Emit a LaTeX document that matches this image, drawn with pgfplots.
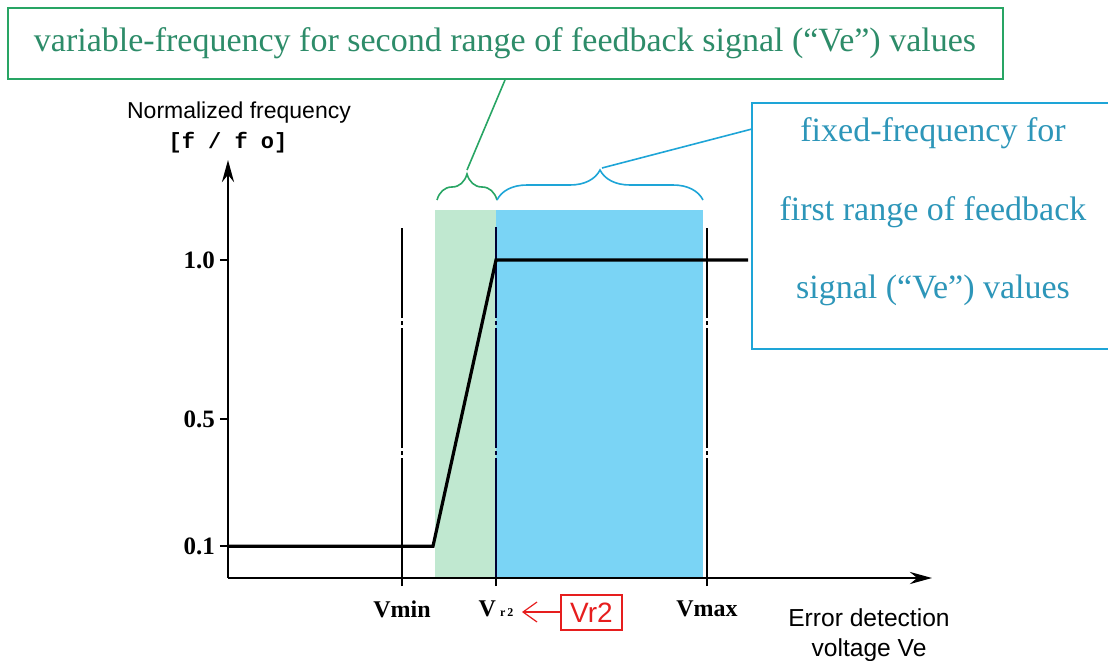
\documentclass[border=0pt]{standalone}
\usepackage{pgfplots}
\pgfplotsset{compat=1.18}
\usepackage{fontspec}
\setmainfont{Liberation Serif}
\setsansfont{Liberation Sans}
\setmonofont{Liberation Mono}
\usetikzlibrary{arrows.meta,decorations.pathreplacing}
\definecolor{gbord}{RGB}{40,165,100}
\definecolor{gtext}{RGB}{45,140,105}
\definecolor{gshade}{RGB}{192,232,208}
\definecolor{bshade}{RGB}{122,212,245}
\definecolor{bbord}{RGB}{30,165,215}
\definecolor{btext}{RGB}{45,150,185}
\definecolor{rred}{RGB}{230,30,30}
\begin{document}
\begin{tikzpicture}
\path[use as bounding box] (-114pt,-41pt) rectangle (440pt,289pt);
\begin{axis}[
  scale only axis, width=352pt, height=209pt,
  xmin=0, xmax=704, ymin=0, ymax=1.3145,
  enlargelimits=false,
  axis lines=left,
  axis line style={line width=1.4pt, -{Stealth[length=11pt,width=6pt]}},
  clip=false, axis on top,
  xtick={174,268,479},
  xticklabels={Vmin, {V\,{\fontsize{6}{6}\selectfont r\,2}}, Vmax},
  ytick={0.1,0.5,1.0},
  yticklabels={0.1,0.5,1.0},
  tick style={black, line width=1pt},
  major tick length=4pt, tick align=outside,
  xticklabel style={font=\bfseries\fontsize{12}{12}\selectfont, yshift=-4pt},
  yticklabel style={font=\bfseries\fontsize{12.5}{12.5}\selectfont, xshift=1pt},
]
\addplot[draw=none, fill=gshade] coordinates {(207,1.157) (268,1.157)} \closedcycle;
\addplot[draw=none, fill=bshade] coordinates {(268,1.157) (475,1.157)} \closedcycle;
\addplot[black, line width=1.3pt, dash pattern=on 60pt off 1.5pt on 2pt off 1.5pt] coordinates {(174,0) (174,1.10)};
\addplot[black!80!blue, line width=1.3pt, dash pattern=on 60pt off 1.5pt on 2pt off 1.5pt] coordinates {(268,0) (268,1.104)};
\addplot[black, line width=1.3pt, dash pattern=on 60pt off 1.5pt on 2pt off 1.5pt] coordinates {(479,0) (479,1.10)};
\addplot[black, line width=1.6pt] coordinates {(0,0.1) (205,0.1) (268,1.0) (520,1.0)};
\end{axis}
\begin{scope}[x=0.5pt,y=0.5pt,shift={(-114pt,-41pt)}]
% green annotation
\draw[gbord, line width=1pt, fill=white] (8,652) rectangle (1003,581);
\node[text=gtext, font=\fontsize{17}{17}\selectfont] at (505,617) {variable-frequency for second range of feedback signal (“Ve”) values};
\draw[gbord, line width=0.8pt] (505,580) -- (467,490);
\draw[gbord, line width=0.8pt, decorate, decoration={brace, amplitude=13pt}] (437,460) -- (497,460);
% blue annotation
\fill[white] (752,557) rectangle (1108,311);
\draw[bbord, line width=1.3pt] (1110,557) -- (752,557) -- (752,311) -- (1110,311);
\node[text=btext, font=\fontsize{17}{17}\selectfont] at (933,527) {fixed-frequency for};
\node[text=btext, font=\fontsize{17}{17}\selectfont] at (933,448) {first range of feedback};
\node[text=btext, font=\fontsize{17}{17}\selectfont] at (933,370) {signal (“Ve”) values};
\draw[bbord, line width=0.8pt] (602,492) -- (752,531);
\draw[bbord, line width=0.8pt, decorate, decoration={brace, amplitude=15pt}] (497,460) -- (703,460);
% axis titles
\node[font=\sffamily\fontsize{11.5}{11.5}\selectfont] at (239,547) {Normalized frequency};
\node[font=\ttfamily\bfseries\fontsize{11}{11}\selectfont] at (228,517) {[f / f o]};
\node[font=\sffamily\fontsize{12.3}{15}\selectfont, align=center] at (869,25) {Error detection\\voltage Ve};
% red Vr2
\draw[rred, line width=0.8pt] (561,65) rectangle (622,30);
\node[text=rred, font=\sffamily\fontsize{14}{14}\selectfont] at (591.5,47.5) {Vr2};
\draw[rred, line width=0.6pt, -{Straight Barb[length=7pt,width=10pt]}] (561,48) -- (522,48);
\end{scope}
\end{tikzpicture}
\end{document}
